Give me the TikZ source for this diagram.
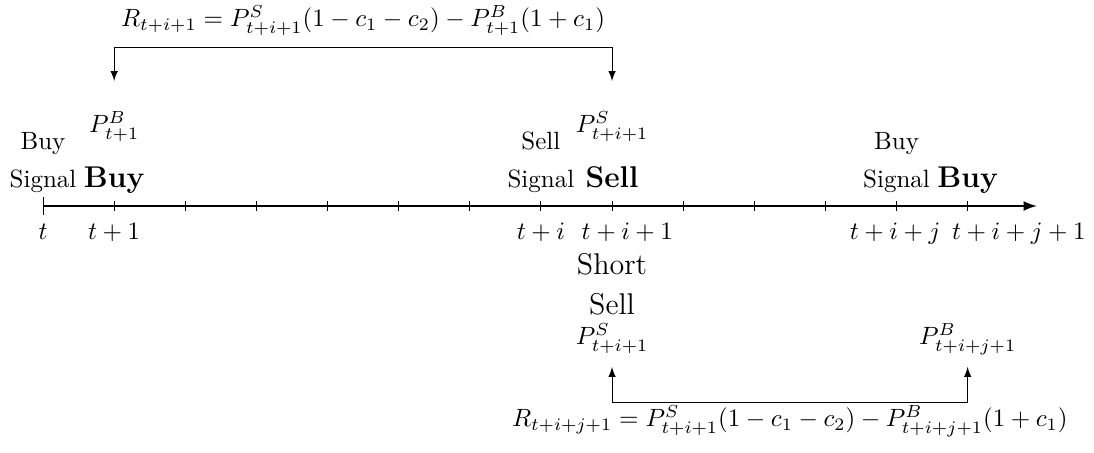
\documentclass[tikz,border=0pt]{standalone}
\usetikzlibrary{arrows}
\tikzset{
  lbl/.style={anchor=base,inner sep=0pt},
  bigbf/.style={anchor=base,inner sep=0pt,font=\large\bfseries},
  bigrm/.style={anchor=base,inner sep=0pt,font=\large},
  bracket/.style={latex-latex,line width=0.4pt},
  tickmark/.style={line width=0.4pt}
}
\begin{document}
\begin{tikzpicture}
\useasboundingbox (-0.605,-3.459) rectangle (14.776,2.896);
% axis
\coordinate (a0) at (0,0);
\coordinate (aend) at (13.97,0);
\draw[-latex,line width=0.8pt] (a0) -- (aend);
\draw[tickmark] (0,-0.125) -- (0,0.125);
\foreach \i in {1,...,13} {\draw[tickmark] (\i,-0.07) -- (\i,0.07);}
% tick labels
\node[lbl] (l0) at (0,-0.478) {$t$};
\node[lbl] (l1) at (1,-0.478) {$t+1$};
\node[lbl] (l7) at (7,-0.478) {$t+i$};
\node[lbl] (l8) at (8.215,-0.478) {$t+i+1$};
\node[lbl] (l12) at (11.98,-0.478) {$t+i+j$};
\node[lbl] (l13) at (13.72,-0.478) {$t+i+j+1$};
% signals
\node[lbl] (bs1) at (0,0.787) {Buy};
\node[lbl] (bs2) at (0,0.253) {Signal};
\node[bigbf] (buy1) at (1,0.253) {Buy};
\node[lbl] (pb1) at (1,1.026) {$P^B_{t+1}$};
\node[lbl] (ss1) at (7,0.787) {Sell};
\node[lbl] (ss2) at (7,0.253) {Signal};
\node[bigbf] (sell1) at (8,0.253) {Sell};
\node[lbl] (ps1) at (8,1.026) {$P^S_{t+i+1}$};
\node[lbl] (bs3) at (12,0.787) {Buy};
\node[lbl] (bs4) at (12,0.253) {Signal};
\node[bigbf] (buy2) at (13,0.253) {Buy};
% short sell
\node[bigrm] (sh1) at (8,-0.970) {Short};
\node[bigrm] (sh2) at (8,-1.532) {Sell};
\node[lbl] (ps2) at (8,-1.954) {$P^S_{t+i+1}$};
\node[lbl] (pb2) at (13,-1.954) {$P^B_{t+i+j+1}$};
% top bracket
\coordinate (ta) at (1,1.757);
\coordinate (tb) at (8,1.757);
\draw[bracket] (ta) -- ++(0,0.478) -| (tb);
\node[lbl] (eq1) at (4.5,2.517) {$R_{t+i+1}=P^S_{t+i+1}(1-c_1-c_2)-P^B_{t+1}(1+c_1)$};
% bottom bracket
\coordinate (ba) at (8,-2.263);
\coordinate (bb) at (13,-2.263);
\draw[bracket] (ba) -- ++(0,-0.493) -| (bb);
\node[lbl] (eq2) at (10.5,-3.107) {$R_{t+i+j+1}=P^S_{t+i+1}(1-c_1-c_2)-P^B_{t+i+j+1}(1+c_1)$};
\end{tikzpicture}
\end{document}
